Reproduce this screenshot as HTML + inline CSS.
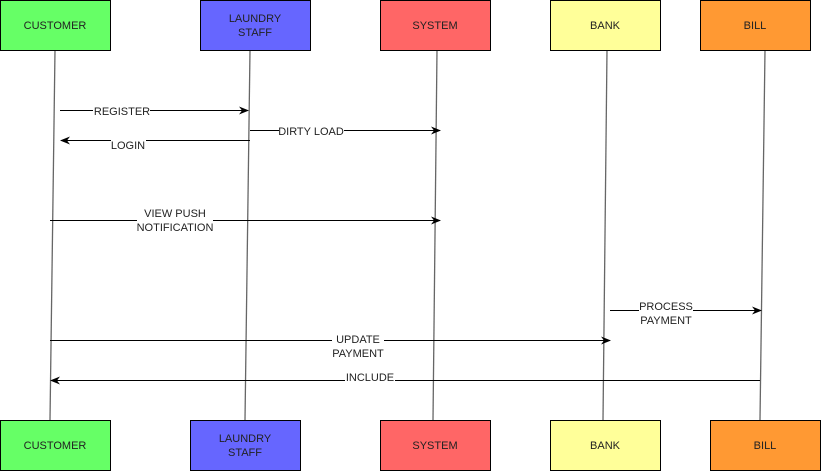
<!DOCTYPE html>
<html><head><style>body{margin:0;background:#fff}svg{display:block}text{font-family:"Liberation Sans",sans-serif;font-size:11px;fill:#222}</style></head>
<body>
<svg width="821" height="471" viewBox="0 0 821 471" xmlns="http://www.w3.org/2000/svg">
<defs><marker id="a" markerWidth="10" markerHeight="8" refX="9" refY="4" orient="auto" markerUnits="userSpaceOnUse"><path d="M0,0 L10,4 L0,8 L3,4 Z" fill="#000"/></marker></defs>
<g stroke="#666" stroke-width="1.3">
<line x1="55" y1="50" x2="50" y2="420"/>
<line x1="250" y1="50" x2="245" y2="420"/>
<line x1="437" y1="50" x2="433" y2="420"/>
<line x1="607" y1="50" x2="603" y2="420"/>
<line x1="765" y1="50" x2="760" y2="420"/>
</g>
<g stroke="#000">
<rect x="0.5" y="0.5" width="110" height="50" fill="#66ff66"/>
<rect x="200.5" y="0.5" width="110" height="50" fill="#6666ff"/>
<rect x="380.5" y="0.5" width="110" height="50" fill="#ff6666"/>
<rect x="550.5" y="0.5" width="110" height="50" fill="#ffff99"/>
<rect x="700.5" y="0.5" width="110" height="50" fill="#ff9933"/>
<rect x="0.5" y="420.5" width="110" height="50" fill="#66ff66"/>
<rect x="190.5" y="420.5" width="110" height="50" fill="#6666ff"/>
<rect x="380.5" y="420.5" width="110" height="50" fill="#ff6666"/>
<rect x="550.5" y="420.5" width="110" height="50" fill="#ffff99"/>
<rect x="710.5" y="420.5" width="110" height="50" fill="#ff9933"/>
</g>
<g text-anchor="middle" style="font-size:12px">
<text x="55" y="29">CUSTOMER</text>
<text x="255" y="22">LAUNDRY</text><text x="255" y="36">STAFF</text>
<text x="435" y="29">SYSTEM</text>
<text x="605" y="29">BANK</text>
<text x="755" y="29">BILL</text>
<text x="55" y="449">CUSTOMER</text>
<text x="245" y="442">LAUNDRY</text><text x="245" y="456">STAFF</text>
<text x="435" y="449">SYSTEM</text>
<text x="605" y="449">BANK</text>
<text x="765" y="449">BILL</text>
</g>
<g stroke="#000" stroke-width="1" marker-end="url(#a)">
<line x1="60" y1="110.5" x2="248" y2="110.5"/>
<line x1="250" y1="130.5" x2="440" y2="130.5"/>
<line x1="250" y1="140.5" x2="61" y2="140.5"/>
<line x1="50" y1="220.5" x2="440" y2="220.5"/>
<line x1="610" y1="310.5" x2="761" y2="310.5"/>
<line x1="50" y1="340.5" x2="610" y2="340.5"/>
<line x1="760" y1="380.5" x2="51" y2="380.5"/>
</g>
<g fill="#fff">
<rect x="93" y="104" width="57" height="13"/>
<rect x="279" y="124" width="65" height="13"/>
<rect x="111" y="139" width="35" height="13"/>
<rect x="137" y="207" width="76" height="28"/>
<rect x="639" y="299" width="54" height="28"/>
<rect x="332" y="332" width="52" height="28"/>
<rect x="345" y="371" width="50" height="13"/>
</g>
<g text-anchor="middle">
<text x="122" y="115">REGISTER</text>
<text x="311" y="135">DIRTY LOAD</text>
<text x="128" y="149">LOGIN</text>
<text x="175" y="217">VIEW PUSH</text><text x="175" y="231">NOTIFICATION</text>
<text x="666" y="310">PROCESS</text><text x="666" y="324">PAYMENT</text>
<text x="358" y="343">UPDATE</text><text x="358" y="357">PAYMENT</text>
<text x="370" y="381">INCLUDE</text>
</g>
</svg>
</body></html>
